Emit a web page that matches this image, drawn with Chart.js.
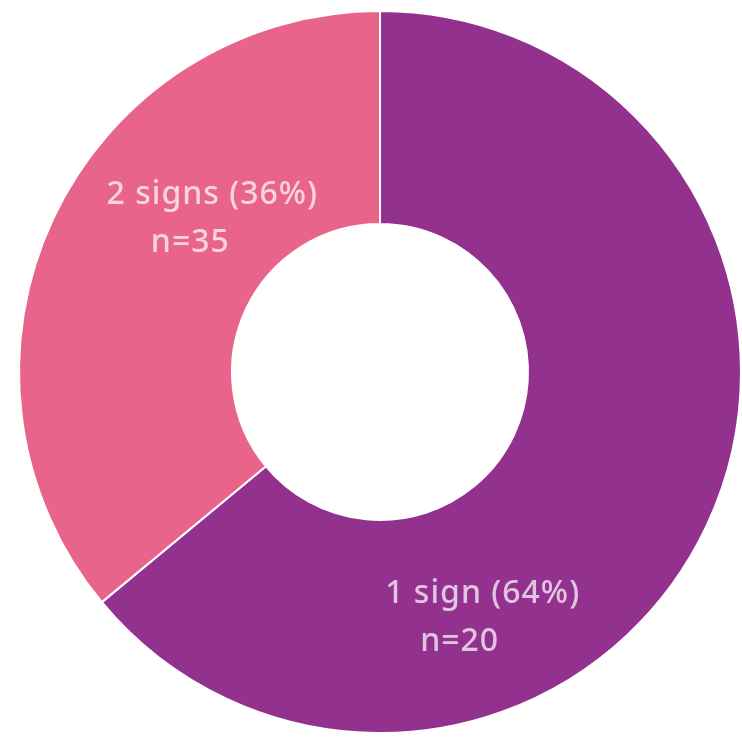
<!DOCTYPE html>
<html>
<head>
    <title>Signs</title>
    <script src="https://cdn.jsdelivr.net/npm/chart.js"></script>
    <style>
        body { margin: 0; background: #fff; }
        canvas { display: block; }
    </style>
</head>
<body>
    <canvas id="myChart" width="742" height="740"></canvas>
    <script>
        // Slice data
        const labels = ['1 sign', '2 signs'];
        const percents = [64, 36];
        const counts = [20, 35];
        const colors = ['#93318f', '#e8648a'];

        // Where each slice's text sits: angle (deg, clockwise from top) and radius fraction
        const labelSpots = [
            { angle: 157.3, radius: 0.737, shift: -23 },
            { angle: 312.4, radius: 0.629, shift: -22 }
        ];

        const sliceText = {
            id: 'sliceText',
            afterDatasetsDraw(chart) {
                const ctx = chart.ctx;
                const arcs = chart.getDatasetMeta(0).data;
                ctx.save();
                ctx.fillStyle = 'rgba(255,255,255,0.72)';
                ctx.font = '500 32px "Noto Sans", "Open Sans", sans-serif';
                ctx.letterSpacing = '1px';
                ctx.textAlign = 'center';
                ctx.textBaseline = 'middle';
                arcs.forEach((arc, i) => {
                    const spot = labelSpots[i];
                    const a = spot.angle * Math.PI / 180;
                    const r = arc.outerRadius * spot.radius;
                    const x = arc.x + r * Math.sin(a);
                    const y = arc.y - r * Math.cos(a);
                    ctx.fillText(labels[i] + ' (' + percents[i] + '%)', x, y - 24);
                    ctx.fillText('n=' + counts[i], x + spot.shift, y + 24);
                });
                ctx.restore();
            }
        };

        const ctx = document.getElementById('myChart').getContext('2d');
        new Chart(ctx, {
            type: 'doughnut',
            data: {
                labels,
                datasets: [{
                    data: percents,
                    backgroundColor: colors,
                    borderColor: '#fff',
                    borderWidth: 2
                }]
            },
            options: {
                responsive: false,
                animation: false,
                cutout: '41%',
                layout: { padding: { left: 18, right: 0, top: 10, bottom: 6 } },
                plugins: {
                    legend: { display: false },
                    tooltip: { enabled: false }
                }
            },
            plugins: [sliceText]
        });
    </script>
</body>
</html>
